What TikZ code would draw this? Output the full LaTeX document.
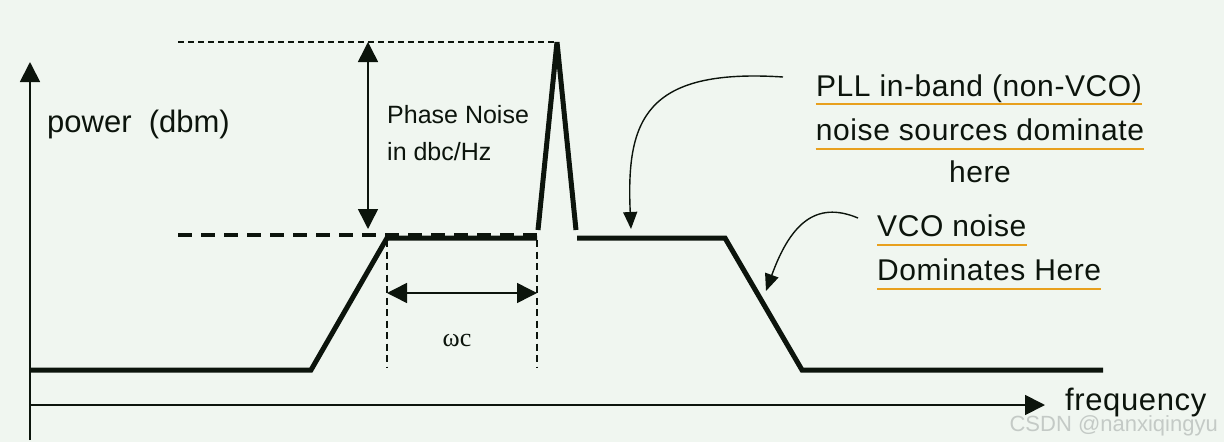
\documentclass[tikz,border=0pt]{standalone}
\usepackage{fontspec}
\setmainfont{Liberation Sans}
\newfontfamily\lblfont[LetterSpace=2]{Liberation Sans}
\newfontfamily\serifw{Liberation Serif}
\usetikzlibrary{arrows.meta}
\definecolor{bg}{RGB}{240,246,240}
\definecolor{ink}{RGB}{12,20,12}
\definecolor{ul}{RGB}{232,160,30}
\definecolor{wm}{RGB}{196,202,198}
\tikzset{
  axisline/.style={draw=ink, line width=1.8pt, -{Triangle[length=20pt,width=20pt]}},
  curveline/.style={draw=ink, line width=5pt},
  dimline/.style={draw=ink, line width=1.5pt, {Triangle[length=20pt,width=20pt]}-{Triangle[length=20pt,width=20pt]}},
  guideline/.style={draw=ink, line width=1.3pt, dash pattern=on 7pt off 4.5pt},
  topline/.style={draw=ink, line width=1.5pt, dash pattern=on 6pt off 4pt},
  levelline/.style={draw=ink, line width=4pt, dash pattern=on 14pt off 9pt},
  callout/.style={draw=ink, line width=1.4pt, -{Triangle[length=17pt,width=14pt]}},
  lbl/.style={font=\lblfont\fontsize{30}{36}\selectfont, text=ink, inner sep=0pt},
  smalllbl/.style={font=\fontsize{25}{30}\selectfont, text=ink, inner sep=0pt},
  uline/.style={draw=ul, line width=2.5pt}
}
\begin{document}
\begin{tikzpicture}[x=1pt,y=-1pt]
\fill[bg] (0,0) rectangle (1224,442);
\useasboundingbox (0,0) rectangle (1224,442);
% axes
\coordinate (yo) at (30,440); \coordinate (ytip) at (30,62);
\coordinate (xo) at (30,405); \coordinate (xtip) at (1045,405);
\draw[axisline] (yo) -- (ytip);
\draw[axisline] (xo) -- (xtip);
% spectrum
\coordinate (a0) at (30,370); \coordinate (a1) at (311,370);
\coordinate (a2) at (387,238); \coordinate (a3) at (537,238);
\coordinate (p0) at (538,230); \coordinate (p1) at (557,42); \coordinate (p2) at (576,230);
\coordinate (b0) at (577,238); \coordinate (b1) at (725,238);
\coordinate (b2) at (802,370); \coordinate (b3) at (1103,370);
\draw[curveline] (a0) -- (a1) -- (a2) -- (a3);
\draw[curveline, miter limit=1] (p0) -- (p1) -- (p2);
\draw[curveline] (b0) -- (b1) -- (b2) -- (b3);
% levels
\coordinate (d0) at (178,42);
\coordinate (d1) at (178,235); \coordinate (d2) at (537,235);
\draw[topline] (d0) -- (p1);
\draw[levelline] (d1) -- (d2);
\coordinate (v0) at (368,42); \coordinate (v1) at (368,229);
\draw[dimline] (v0) -- (v1);
% bandwidth
\coordinate (g0) at (387,240); \coordinate (g1) at (387,368);
\coordinate (g2) at (537,240); \coordinate (g3) at (537,368);
\draw[guideline] (g0) -- (g1);
\draw[guideline] (g2) -- (g3);
\coordinate (h0) at (387,293); \coordinate (h1) at (537,293);
\draw[dimline] (h0) -- (h1);
% labels
\node[font=\fontsize{31}{36}\selectfont, text=ink, inner sep=0pt, anchor=base west] (pw) at (47,132) {power\ \ (dbm)};
\node[smalllbl, anchor=base west] (pn1) at (387,123) {Phase Noise};
\node[smalllbl, anchor=base west] (pn2) at (387,160) {in dbc/Hz};
\node[font=\serifw\fontsize{26}{30}\selectfont, text=ink, inner sep=0pt, anchor=base] (wc) at (457,346) {ωc};
\node[lbl, font=\lblfont\fontsize{31}{36}\selectfont, anchor=base west] (fq) at (1065,410) {frequency};
% right labels
\node[lbl, anchor=base] (t1) at (979,96) {PLL in-band (non-VCO)};
\node[lbl, anchor=base] (t2) at (980,140) {noise sources dominate};
\node[lbl, anchor=base] (t3) at (980,182) {here};
\draw[uline] ([yshift=-8pt]t1.base west) -- ([yshift=-8pt]t1.base east);
\draw[uline] ([yshift=-9pt]t2.base west) -- ([yshift=-9pt]t2.base east);
\node[lbl, anchor=base west] (v1t) at (877,236) {VCO noise};
\node[lbl, anchor=base west] (v2t) at (877,280) {Dominates Here};
\draw[uline] ([yshift=-9pt]v1t.base west) -- ([yshift=-9pt]v1t.base east);
\draw[uline] ([yshift=-9pt]v2t.base west) -- ([yshift=-9pt]v2t.base east);
% callouts
\coordinate (c1s) at (783,77); \coordinate (c1e) at (631,229);
\draw[callout] (c1s) .. controls (645,68) and (626,120) .. (c1e);
\coordinate (c2s) at (858,218); \coordinate (c2e) at (766,291);
\draw[callout] (c2s) .. controls (815,200) and (790,225) .. (c2e);
% watermark
\node[font=\fontsize{22}{26}\selectfont, text=wm, inner sep=0pt, anchor=base east] (wmk) at (1218,431) {CSDN @nanxiqingyu};
\end{tikzpicture}
\end{document}
